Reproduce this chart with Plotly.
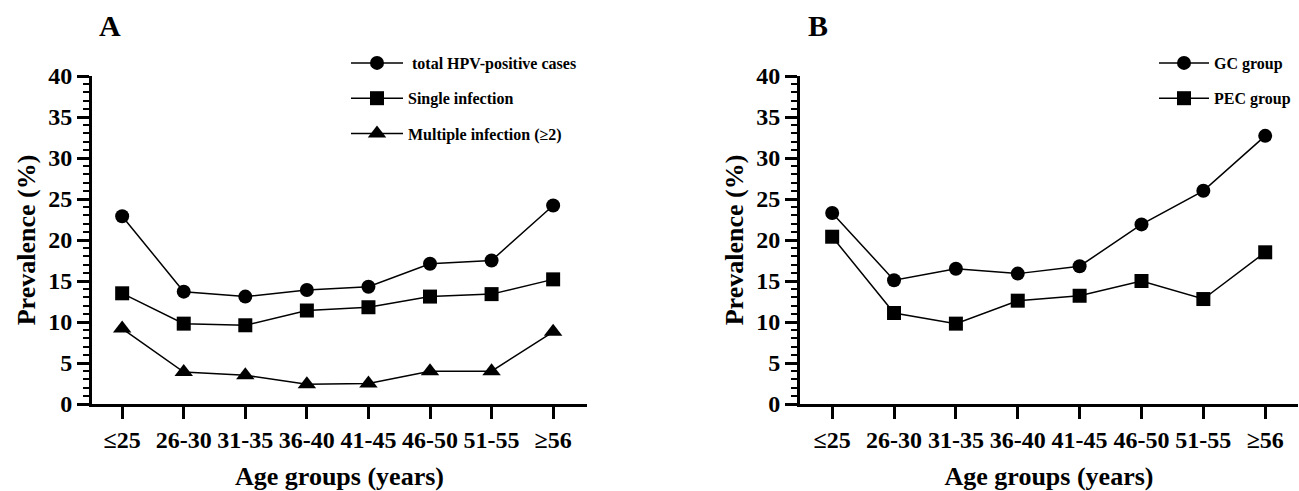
import plotly.graph_objects as go
from plotly.subplots import make_subplots

age_groups = ["≤25", "26-30", "31-35", "36-40", "41-45", "46-50", "51-55", "≥56"]

total_hpv = [22.9, 13.7, 13.1, 13.9, 14.3, 17.1, 17.5, 24.2]
single_inf = [13.5, 9.8, 9.6, 11.4, 11.8, 13.1, 13.4, 15.2]
multiple_inf = [9.2, 3.9, 3.5, 2.4, 2.5, 4.0, 4.0, 8.8]

gc_group = [23.3, 15.1, 16.5, 15.9, 16.8, 21.9, 26.0, 32.7]
pec_group = [20.4, 11.1, 9.8, 12.6, 13.2, 15.0, 12.8, 18.5]

FONT = "Liberation Serif"
W, H = 1299, 491

fig = make_subplots(rows=1, cols=2)

x_idx = list(range(len(age_groups)))

def add(y, name, symbol, col, legend, size=14):
    fig.add_trace(go.Scatter(
        x=x_idx, y=y, name=name, mode="lines+markers",
        line=dict(color="black", width=1.5),
        marker=dict(symbol=symbol, size=size, color="black"),
        legend=legend, legendgroup=name,
    ), row=1, col=col)

add(total_hpv, " total HPV-positive cases", "circle", 1, "legend")
add(single_inf, "Single infection", "square", 1, "legend")
add(multiple_inf, "Multiple infection (≥2)", "triangle-up", 1, "legend", 16)
add(gc_group, "GC group", "circle", 2, "legend2")
add(pec_group, "PEC group", "square", 2, "legend2")

def px(x):
    return x / W

def py(y):
    return 1 - y / H

ydom = [py(404), py(76)]

xcommon = dict(
    tickmode="array", tickvals=x_idx, ticktext=age_groups,
    showline=True, linecolor="black", linewidth=3,
    ticks="outside", ticklen=12, tickwidth=2.5, tickcolor="black",
    tickfont=dict(family=FONT, size=24, color="black", weight="bold"),
    showgrid=False, zeroline=False,
    title=dict(text="<b>Age groups (years)</b>", font=dict(family=FONT, size=26, color="black"), standoff=18),
    automargin=False,
)
ycommon = dict(
    range=[0, 40], tickmode="linear", tick0=0, dtick=5,
    showline=True, linecolor="black", linewidth=3,
    ticks="outside", ticklen=12, tickwidth=2.5, tickcolor="black",
    minor=dict(dtick=1, ticklen=6, tickwidth=2, tickcolor="black", ticks="outside"),
    tickfont=dict(family=FONT, size=24, color="black", weight="bold"),
    showgrid=False, zeroline=False,
    title=dict(text="<b>Prevalence (%)</b>", font=dict(family=FONT, size=26, color="black"), standoff=6),
    automargin=False,
)

fig.update_xaxes(**xcommon)
fig.update_yaxes(**ycommon)
fig.update_layout(
    xaxis=dict(domain=[px(92), px(587)], range=[-0.49, 7.55]),
    xaxis2=dict(domain=[px(800), px(1298)], range=[-0.52, 7.53]),
    yaxis=dict(domain=ydom),
    yaxis2=dict(domain=ydom),
)

legfont = dict(family=FONT, size=16, color="black", weight="bold")
fig.update_layout(
    width=W, height=H,
    margin=dict(l=0, r=0, t=0, b=0),
    paper_bgcolor="white", plot_bgcolor="white",
    showlegend=True,
    legend=dict(x=px(346), y=py(46), xanchor="left", yanchor="top",
                font=legfont, tracegroupgap=11.5, bgcolor="rgba(0,0,0,0)", itemwidth=52),
    legend2=dict(x=px(1154), y=py(46), xanchor="left", yanchor="top",
                 font=legfont, tracegroupgap=11.5, bgcolor="rgba(0,0,0,0)", itemwidth=50),
    annotations=[
        dict(text="<b>A</b>", x=px(110), y=py(25), xref="paper", yref="paper",
             xanchor="center", yanchor="middle",
             showarrow=False, font=dict(family=FONT, size=30, color="black")),
        dict(text="<b>B</b>", x=px(818), y=py(25), xref="paper", yref="paper",
             xanchor="center", yanchor="middle",
             showarrow=False, font=dict(family=FONT, size=30, color="black")),
    ],
)

fig.write_html("out.html")
